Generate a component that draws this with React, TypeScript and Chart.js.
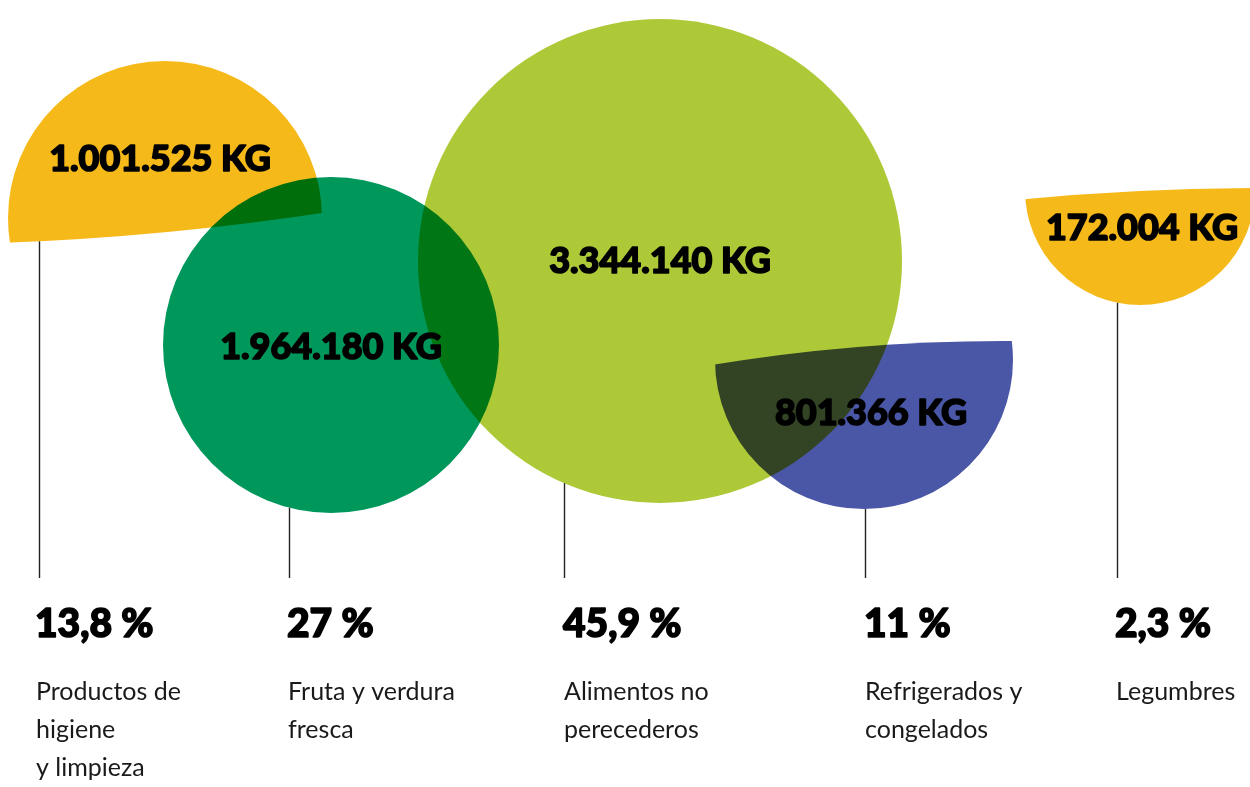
import React, { useEffect, useRef } from "react";
import { Chart, registerables } from "chart.js";

Chart.register(...registerables);

// ---- data ----
const categories = [
  "Productos de higiene y limpieza",
  "Fruta y verdura fresca",
  "Alimentos no perecederos",
  "Refrigerados y congelados",
  "Legumbres",
];
const categoryLines = [
  ["Productos de", "higiene", "y limpieza"],
  ["Fruta y verdura", "fresca"],
  ["Alimentos no", "perecederos"],
  ["Refrigerados y", "congelados"],
  ["Legumbres"],
];
const kgValues = [1001525, 1964180, 3344140, 801366, 172004];
const kgLabels = ["1.001.525 KG", "1.964.180 KG", "3.344.140 KG", "801.366 KG", "172.004 KG"];
const percentValues = [13.8, 27, 45.9, 11, 2.3];
const percentLabels = ["13,8 %", "27 %", "45,9 %", "11 %", "2,3 %"];

// ---- layout (pixel-like units of the hidden scales) ----
const bubbleX = [165, 331, 660, 864, 1140];
const bubbleY = [218, 345, 261, 360, 190];
const bubbleR = [157, 168, 242, 149, 115];
const labelX = [160, 331, 660, 871, 1142];
const labelY = [159, 347, 261, 413, 228];
const stemX = [39, 289, 564, 865, 1117];
const stemBottom = 578;
const textX = [35, 287, 563, 864, 1115];
const percentBaseline = 637;
const categoryBaseline = 700;
const categoryLineHeight = 38;

type Cut = { keep: "above" | "below"; x1: number; y1: number; x2: number; y2: number; sag: number } | null;
const cuts: Cut[] = [
  { keep: "above", x1: 0, y1: 243, x2: 335, y2: 211, sag: 5 },
  null,
  null,
  { keep: "below", x1: 705, y1: 366, x2: 1020, y2: 341, sag: -7 },
  { keep: "below", x1: 1015, y1: 200, x2: 1262, y2: 188, sag: -3 },
];

const colors = ["#F6B91A", "#00975B", "#ADC938", "#4A56A6", "#F6B91A"];
const textColor = "#000000";
const stemColor = "#222222";

function chordY(c: NonNullable<Cut>, x: number) {
  const t = (x - c.x1) / (c.x2 - c.x1);
  const yc = (c.y1 + c.y2) / 2 + 2 * c.sag;
  return (1 - t) * (1 - t) * c.y1 + 2 * t * (1 - t) * yc + t * t * c.y2;
}

const shapePlugin = {
  id: "shapes",
  beforeDatasetDraw(chart: any, args: any) {
    const ctx = chart.ctx;
    const i = args.index;
    ctx.save();
    ctx.globalCompositeOperation = "multiply";
    const c = cuts[i];
    if (c) {
      const xs = chart.scales.x;
      const ys = chart.scales.y;
      const p1x = xs.getPixelForValue(c.x1);
      const p1y = ys.getPixelForValue(c.y1);
      const p2x = xs.getPixelForValue(c.x2);
      const p2y = ys.getPixelForValue(c.y2);
      const cx = xs.getPixelForValue((c.x1 + c.x2) / 2);
      const cy = ys.getPixelForValue((c.y1 + c.y2) / 2 + 2 * c.sag);
      const far = c.keep === "above" ? -5000 : 5000;
      ctx.beginPath();
      ctx.moveTo(p1x, p1y);
      ctx.quadraticCurveTo(cx, cy, p2x, p2y);
      ctx.lineTo(p2x, far);
      ctx.lineTo(p1x, far);
      ctx.closePath();
      ctx.clip();
    }
  },
  afterDatasetDraw(chart: any) {
    chart.ctx.restore();
  },
  afterDraw(chart: any) {
    const ctx = chart.ctx;
    const xs = chart.scales.x;
    const ys = chart.scales.y;
    ctx.save();
    // stems
    ctx.strokeStyle = stemColor;
    ctx.lineWidth = 1.4;
    stemX.forEach((sx, i) => {
      const dx = sx - bubbleX[i];
      let top = bubbleY[i] + Math.sqrt(Math.max(0, bubbleR[i] * bubbleR[i] - dx * dx));
      const c = cuts[i];
      if (c && c.keep === "above") top = Math.min(top, chordY(c, sx));
      const px = Math.round(xs.getPixelForValue(sx)) + 0.5;
      ctx.beginPath();
      ctx.moveTo(px, ys.getPixelForValue(top));
      ctx.lineTo(px, ys.getPixelForValue(stemBottom));
      ctx.stroke();
    });
    // kg labels (fill + stroke for a heavier weight)
    ctx.fillStyle = textColor;
    ctx.strokeStyle = textColor;
    ctx.lineJoin = "round";
    ctx.lineWidth = 1.6;
    ctx.textAlign = "center";
    ctx.textBaseline = "middle";
    ctx.font = "900 36px Lato, 'DejaVu Sans', sans-serif";
    kgLabels.forEach((t, i) => {
      const x = xs.getPixelForValue(labelX[i]);
      const y = ys.getPixelForValue(labelY[i]);
      ctx.fillText(t, x, y);
      ctx.strokeText(t, x, y);
    });
    // percents
    ctx.textAlign = "left";
    ctx.textBaseline = "alphabetic";
    ctx.font = "900 39px Lato, 'DejaVu Sans', sans-serif";
    percentLabels.forEach((t, i) => {
      const x = xs.getPixelForValue(textX[i]);
      const y = ys.getPixelForValue(percentBaseline);
      ctx.fillText(t, x, y);
      ctx.strokeText(t, x, y);
    });
    // categories
    ctx.font = "400 25px Lato, 'DejaVu Sans', sans-serif";
    ctx.fillStyle = "#1a1a1a";
    categoryLines.forEach((lines, i) => {
      lines.forEach((l, j) => {
        ctx.fillText(
          l,
          xs.getPixelForValue(textX[i] + 1),
          ys.getPixelForValue(categoryBaseline + j * categoryLineHeight)
        );
      });
    });
    ctx.restore();
  },
};

export default function App() {
  const ref = useRef<HTMLCanvasElement | null>(null);
  useEffect(() => {
    document.body.style.margin = "0";
    if (!ref.current) return;
    const chart = new Chart(ref.current, {
      type: "bubble",
      data: {
        datasets: categories.map((c, i) => ({
          label: c,
          data: [{ x: bubbleX[i], y: bubbleY[i], r: bubbleR[i], kg: kgValues[i], pct: percentValues[i] } as any],
          backgroundColor: colors[i],
          borderWidth: 0,
          hoverBorderWidth: 0,
          clip: false as any,
        })),
      },
      options: {
        animation: false,
        responsive: false,
        events: [],
        layout: { padding: 0, autoPadding: false } as any,
        plugins: { legend: { display: false }, tooltip: { enabled: false } },
        scales: {
          x: { type: "linear", min: 0, max: 1250, display: false },
          y: { type: "linear", min: 0, max: 787, reverse: true, display: false },
        },
      },
      plugins: [shapePlugin],
    });
    return () => chart.destroy();
  }, []);
  return (
    <div style={{ position: "absolute", left: 0, top: 0, width: 1250, height: 787, background: "#fff" }}>
      <canvas ref={ref} width={1250} height={787} style={{ display: "block" }} />
    </div>
  );
}
